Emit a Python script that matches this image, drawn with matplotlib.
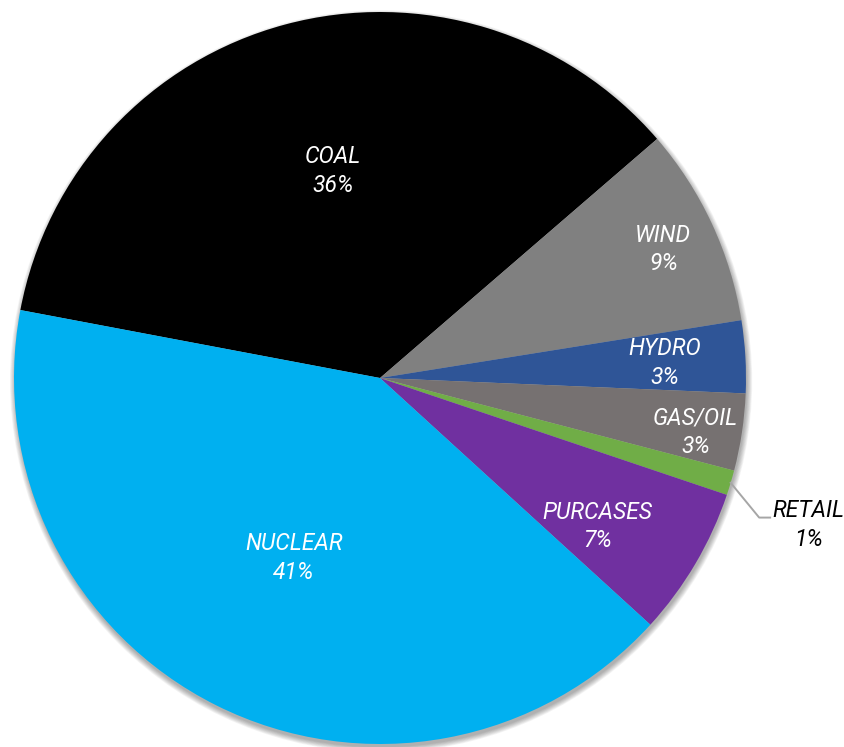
import numpy as np
import matplotlib.pyplot as plt
from matplotlib.patches import Circle

# generation mix, percent of total
sources = ['COAL', 'WIND', 'HYDRO', 'GAS/OIL', 'RETAIL', 'PURCASES', 'NUCLEAR']
shares = [35.7, 8.8, 3.2, 3.4, 1.1, 6.6, 41.2]
colors = ['#000000', '#808080', '#2F5597', '#767171', '#70AD47', '#7030A0', '#00B0F0']

# label placement inside each wedge (radius fraction, angle nudge in degrees)
label_r = [0.58, 0.85, 0.78, 0.875, None, 0.72, 0.545]
label_nudge = [-2.3, -0.5, -0.3, -1.2, 0, -3.8, 1]

START = 169.3
FONT = dict(family=['Roboto', 'DejaVu Sans'], style='italic', fontsize=16.5)

fig = plt.figure(figsize=(8.44, 7.47), dpi=100)
ax = fig.add_axes([0, 0, 1, 1])

# soft drop shadow under the pie
for i in range(8):
    ax.add_patch(Circle((0.003, -0.009), 1 + i * 0.002, color='black',
                        alpha=0.045, lw=0, zorder=0))

wedges, _ = ax.pie(shares, colors=colors, startangle=START, counterclock=False,
                   radius=1, wedgeprops=dict(linewidth=0, zorder=1))

total = sum(shares)
for w, name, val, r, nudge in zip(wedges, sources, shares, label_r, label_nudge):
    mid = np.deg2rad((w.theta1 + w.theta2) / 2 + nudge)
    text = f'{name}\n{val / total * 100:.0f}%'
    if r is None:
        # outside label with a leader line
        x0, y0 = np.cos(mid), np.sin(mid)
        ax.plot([x0, 1.036, 1.066], [y0, y0 - 0.095, y0 - 0.095],
                color='#A6A6A6', lw=1.4, zorder=2)
        ax.text(1.170, y0 - 0.115, text, ha='center', va='center',
                color='black', linespacing=1.3, zorder=3, **FONT)
        continue
    ax.text(r * np.cos(mid), r * np.sin(mid), text, ha='center', va='center',
            color='white', linespacing=1.3, zorder=3, **FONT)

ax.set_xlim(-380 / 366, (844 - 380) / 366)
ax.set_ylim(-(747 - 378) / 366, 378 / 366)
ax.set_aspect('equal')
ax.axis('off')

fig.savefig('out.png', dpi=100)
